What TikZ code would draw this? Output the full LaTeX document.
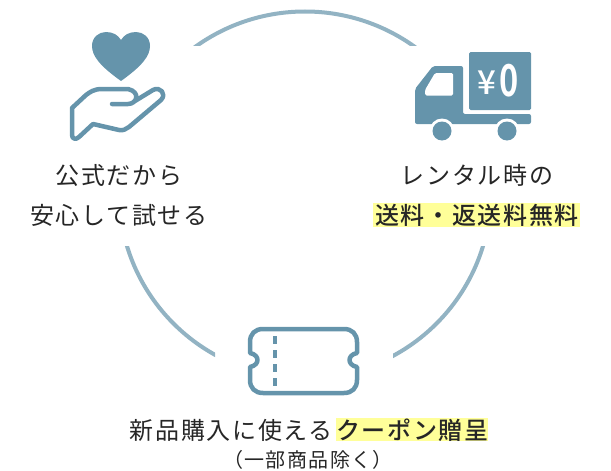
\documentclass[tikz,border=0pt]{standalone}
\usepackage{fontspec}
\newfontfamily\jpfont[LetterSpace=7]{Noto Sans CJK JP}
\newfontfamily\jpbold[LetterSpace=7]{Noto Sans CJK JP Medium}
\definecolor{iconblue}{HTML}{6594AB}
\definecolor{ringblue}{HTML}{92B3C3}
\definecolor{marker}{HTML}{FFFF99}
\tikzset{
  label/.style={font=\jpfont\fontsize{24}{24}\selectfont,text=black!85,inner sep=0pt},
  boldlabel/.style={label,font=\jpbold\fontsize{24}{24}\selectfont},
  ring/.style={draw=ringblue,line width=4pt},
  outline/.style={draw=iconblue,line width=4.5pt,line join=round,line cap=round},
  marked/.style={fill=marker}
}
\begin{document}
\begin{tikzpicture}[x=1pt,y=-1pt]
  \useasboundingbox (0,0) rectangle (611,471);
  % ring
  \begin{scope}
    \clip (0,0) rectangle (611,45);
    \draw[ring] (305,199.5) circle (188);
  \end{scope}
  \begin{scope}
    \clip (0,246) rectangle (215,471) (393,246) rectangle (611,471);
    \draw[ring] (305,192) circle (186);
  \end{scope}
  % highlights
  \fill[marked] (373,203) rectangle (580,227);
  \fill[marked] (336,418) rectangle (488,441);
  % heart
  \fill[iconblue] (121,81) .. controls (100,66) and (92,56) .. (92,46)
    .. controls (92,37) and (99,32) .. (106,32)
    .. controls (113,32) and (118,35) .. (121,40)
    .. controls (124,35) and (129,32) .. (136,32)
    .. controls (143,32) and (150,37) .. (150,46)
    .. controls (150,56) and (142,66) .. (121,81) -- cycle;
  % hand
  \draw[outline] (112,104) -- (128,104) .. controls (137,104) and (141,92) .. (128,89)
    -- (102,89) .. controls (94,89) and (90,92) .. (86,95) -- (72,108) -- (72,135)
    .. controls (72,139) and (76,140) .. (79,137) -- (93,124) -- (119,130)
    .. controls (123,131) and (126,129) .. (129,127) -- (161,100)
    .. controls (167,94) and (160,86) .. (153,90) -- (135,101);
  % truck
  \fill[iconblue,rounded corners=1.5pt] (469,52) rectangle (531,110);
  \fill[iconblue,rounded corners=2pt] (433,66) -- (463,66) -- (463,114) -- (531,114)
    -- (531,124) -- (415,124) -- (415,89) -- cycle;
  \fill[white,rounded corners=1.5pt] (435,73) -- (453,73) -- (453,95.5) -- (425,95.5) -- (425,90) -- cycle;
  \fill[white] (442,131) circle (12.5) (507,131) circle (12.5);
  \fill[iconblue] (442,131) circle (9.5) (507,131) circle (9.5);
  \node[font=\fontspec{Noto Sans CJK JP Medium}\fontsize{33}{33}\selectfont,text=white,inner sep=0pt] (yen) at (487,83) {¥};
  \node[font=\fontspec{Noto Sans CJK JP Bold}\fontsize{44}{44}\selectfont,text=white,inner sep=0pt,xscale=.74] (zero) at (509.5,81) {0};
  % ticket
  \draw[outline] (263,329) -- (344,329) .. controls (352,329) and (357,334) .. (357,342)
    -- (357,353) .. controls (347,355) and (347,365) .. (357,367) -- (357,380)
    .. controls (357,388) and (352,393) .. (344,393) -- (263,393)
    .. controls (255,393) and (250,388) .. (250,380) -- (250,367)
    .. controls (260,365) and (260,355) .. (250,353) -- (250,342)
    .. controls (250,334) and (255,329) .. (263,329) -- cycle;
  \draw[draw=iconblue,line width=3.5pt,dash pattern=on 8pt off 6pt] (275,336) -- (275,386);
  % labels
  \node[label] (koushiki) at (119,175) {公式だから};
  \node[label] (anshin) at (119,215) {安心して試せる};
  \node[label] (rental) at (477,175) {レンタル時の};
  \node[boldlabel] (souryou) at (477,215) {送料・返送料無料};
  \node[label,anchor=east] (shinpin) at (333,430) {新品購入に使える};
  \node[boldlabel,anchor=west] (coupon) at (336,430) {クーポン贈呈};
  \node[label,font=\jpfont\fontsize{20}{20}\selectfont] (ichibu) at (308,460) {（一部商品除く）};
\end{tikzpicture}
\end{document}
